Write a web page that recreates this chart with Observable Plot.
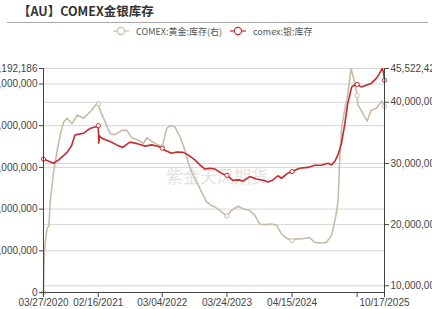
<!DOCTYPE html>
<html>
<head>
<meta charset="utf-8">
<script src="https://cdn.jsdelivr.net/npm/d3@7"></script>
<script src="https://cdn.jsdelivr.net/npm/@observablehq/plot@0.6"></script>
<style>
  body { margin: 0; background: #fff; }
  #wrap { position: relative; width: 432px; height: 309px; overflow: hidden;
          font-family: "Noto Sans CJK SC", "Noto Sans", sans-serif; }
  #title { position: absolute; left: 18px; top: 1px; font-size: 12.5px; font-weight: bold; color: #333; white-space: nowrap; }
  #sep { position: absolute; left: 7px; top: 22px; width: 421px; height: 1px; background: #a8a8a8; }
  #legend { position: absolute; top: 24px; left: 113px; height: 14px; display: flex; align-items: center;
            font-size: 9px; color: #555; white-space: nowrap; }
  #legend svg { display: block; }
  #chart { position: absolute; left: 0; top: 0; }
</style>
</head>
<body>
<div id="wrap">
  <div id="chart"></div>
  <div id="title"></div>
  <div id="sep"></div>
  <div id="legend"></div>
</div>
<script>
// ---- text ----
const titleText = "【AU】COMEX金银库存";
const seriesNames = ["COMEX:黄金:库存(右)", "comex:银:库存"];
const watermark = "紫金天风期货";

// ---- silver inventory (left axis), million oz ----
const silverDates = [
  "2020-03-27","2020-04-20","2020-05-26","2020-06-25","2020-07-24","2020-08-14","2020-09-10","2020-09-28",
  "2020-10-02","2020-11-21","2021-01-01","2021-02-09","2021-02-16","2021-02-19","2021-02-23","2021-03-09",
  "2021-04-27","2021-06-06","2021-07-12","2021-08-20","2021-09-04","2021-10-13","2021-11-22","2022-01-01",
  "2022-02-09","2022-03-04","2022-03-19","2022-04-28","2022-05-28","2022-07-06","2022-08-05","2022-09-14",
  "2022-10-14","2022-11-13","2022-12-13","2023-01-12","2023-02-11","2023-03-21","2023-03-24","2023-04-29",
  "2023-06-08","2023-06-28","2023-08-07","2023-09-16","2023-10-25","2023-11-24","2023-12-23","2024-01-22",
  "2024-02-12","2024-03-21","2024-04-15","2024-05-29","2024-07-18","2024-08-27","2024-10-06","2024-11-15",
  "2024-12-05","2024-12-24","2025-01-13","2025-02-03","2025-02-22","2025-03-12","2025-04-05","2025-05-01",
  "2025-05-07","2025-05-31","2025-06-30","2025-07-29","2025-08-28","2025-09-17","2025-10-03","2025-10-10",
  "2025-10-17"
];
const silverMoz = [
  320, 316, 310, 318, 328, 336, 352, 375,
  378, 382, 394, 398, 400, 358, 376, 370,
  362, 354, 348, 360, 360, 356, 351, 354,
  350, 346, 341, 334, 337, 336, 330, 318,
  306, 296, 298, 296, 288, 280, 281, 269,
  270, 267, 278, 272, 269, 265, 270, 280,
  274, 286, 290, 298, 300, 305, 305, 310,
  306, 314, 330, 358, 402, 453, 493, 500,
  499, 493, 497, 501, 513, 525, 537.192186, 530,
  509
];

// ---- gold inventory (right axis), million oz ----
const goldDates = [
  "2020-03-27","2020-04-01","2020-04-08","2020-04-17","2020-04-28","2020-05-06","2020-05-26","2020-06-15",
  "2020-07-04","2020-07-24","2020-08-14","2020-09-13","2020-10-13","2020-11-21","2021-01-01","2021-02-09",
  "2021-02-16","2021-02-22","2021-03-29","2021-04-27","2021-05-27","2021-07-06","2021-08-05","2021-09-04",
  "2021-10-13","2021-11-12","2021-12-02","2022-01-01","2022-02-09","2022-03-04","2022-03-30","2022-04-19",
  "2022-05-18","2022-06-17","2022-07-17","2022-08-05","2022-08-26","2022-09-25","2022-10-24","2022-11-23",
  "2022-12-23","2023-01-12","2023-02-11","2023-03-24","2023-04-19","2023-05-29","2023-06-28","2023-08-07",
  "2023-09-06","2023-10-05","2023-11-04","2023-12-14","2024-01-13","2024-02-12","2024-03-12","2024-04-15",
  "2024-05-10","2024-06-09","2024-07-28","2024-08-27","2024-10-06","2024-11-05","2024-12-05","2024-12-24",
  "2025-01-04","2025-01-13","2025-01-23","2025-02-03","2025-02-22","2025-03-12","2025-04-01","2025-04-11",
  "2025-05-01","2025-05-07","2025-05-11","2025-06-10","2025-07-06","2025-07-29","2025-08-28","2025-10-01",
  "2025-10-17"
];
const goldMoz = [
  8.9, 15.5, 17.5, 19.3, 19.8, 23.7, 28.6, 31.9,
  34.6, 36.7, 37.4, 36.5, 37.9, 37.4, 38.5, 39.8,
  39.7, 39.0, 36.8, 34.9, 34.7, 35.4, 35.4, 34.2,
  33.8, 33.3, 34.2, 33.6, 33.0, 32.7, 35.7, 36.2,
  36.0, 34.4, 32.2, 30.2, 28.6, 27.0, 25.3, 23.7,
  23.1, 22.9, 22.3, 21.4, 22.3, 23.0, 22.6, 22.3,
  21.5, 20.1, 20.0, 20.1, 19.9, 18.5, 17.8, 17.4,
  17.7, 17.65, 17.9, 17.1, 17.0, 17.1, 18.2, 20.4,
  22.0, 23.7, 30.2, 35.7, 38.7, 41.2, 45.522428, 44.5,
  42.0, 41.1, 39.6, 38.2, 36.9, 38.7, 39.0, 40.2,
  39.3
];

// ---- axes ----
const tickDates  = ["2020-03-27","2021-02-16","2022-03-04","2023-03-24","2024-04-15","2025-05-07","2025-10-17"];
const tickLabels = ["03/27/2020","02/16/2021","03/04/2022","03/24/2023","04/15/2024","","10/17/2025"];
const leftTicks  = [0, 100000000, 200000000, 300000000, 400000000, 500000000, 537192186];
const rightTicks = [10000000, 20000000, 30000000, 40000000, 45522428];
const leftMax  = 537192186;
const rightMin = 8900000;
const rightMax = 45522428;

const RED = "#c62a2e";
const GOLD = "#c9bba7";
const M = 1e6;

// right-axis values mapped onto the left scale
const toLeft = g => (g - rightMin) / (rightMax - rightMin) * leftMax;
const fromLeft = v => v / leftMax * (rightMax - rightMin) + rightMin;

const parse = d3.utcParse("%Y-%m-%d");
const silver = silverDates.map((d, i) => ({date: parse(d), value: silverMoz[i] * M}));
const gold = goldDates.map((d, i) => ({date: parse(d), value: goldMoz[i] * M, y: toLeft(goldMoz[i] * M)}));
const ticks = tickDates.map(parse);
const tickSet = new Set(ticks.map(Number));
const labelOf = new Map(ticks.map((t, i) => [+t, tickLabels[i]]));
const x0 = ticks[0], x1 = ticks[ticks.length - 1];
const fmt = d3.format(",");

document.getElementById("title").textContent = titleText;

// legend
const legend = d3.select("#legend");
[GOLD, RED].forEach((c, i) => {
  const s = legend.append("svg").attr("width", 16).attr("height", 10)
    .style("margin-left", i === 0 ? "0px" : "8px");
  s.append("line").attr("x1", 0).attr("x2", 16).attr("y1", 5).attr("y2", 5).attr("stroke", c).attr("stroke-width", 1.2);
  s.append("circle").attr("cx", 8).attr("cy", 5).attr("r", 3.6).attr("fill", "#fff").attr("stroke", c).attr("stroke-width", 1.1);
  legend.append("span").style("margin-left", "7px").text(seriesNames[i]);
});

const chart = Plot.plot({
  width: 432,
  height: 309,
  marginLeft: 43,
  marginRight: 48,
  marginTop: 68,
  marginBottom: 17,
  style: {fontFamily: "'Liberation Sans', 'Noto Sans CJK SC', sans-serif", fontSize: "10px", color: "#444", background: "transparent", overflow: "hidden"},
  x: {type: "utc", domain: [x0, x1]},
  y: {domain: [0, leftMax]},
  marks: [
    Plot.ruleY(leftTicks.slice(1), {stroke: "#d6d6d6", strokeWidth: 1}),
    Plot.ruleY(rightTicks.map(toLeft), {stroke: "#d6d6d6", strokeWidth: 1}),
    Plot.text([watermark], {frameAnchor: "middle", dx: 3, dy: -3, fontSize: 17, fill: "#e3e3e3",
      fontFamily: "'Noto Sans CJK SC', sans-serif"}),
    Plot.line(gold, {x: "date", y: "y", stroke: GOLD, strokeWidth: 1.6}),
    Plot.line(silver, {x: "date", y: "value", stroke: RED, strokeWidth: 1.6}),
    Plot.dot(gold.filter(d => tickSet.has(+d.date)), {x: "date", y: "y", r: 2.1, fill: "#fff", stroke: GOLD, strokeWidth: 1}),
    Plot.dot(silver.filter(d => tickSet.has(+d.date)), {x: "date", y: "value", r: 2.1, fill: "#fff", stroke: RED, strokeWidth: 1}),
    Plot.ruleX([x0], {stroke: "#444", strokeWidth: 1}),
    Plot.ruleX([x1], {stroke: "#444", strokeWidth: 1}),
    Plot.ruleY([0], {stroke: "#444", strokeWidth: 1}),
    Plot.axisY(leftTicks, {anchor: "left", tickSize: 4, tickPadding: 2, tickFormat: fmt, label: null, stroke: "#444"}),
    Plot.axisY(rightTicks.map(toLeft), {anchor: "right", tickSize: 4, tickPadding: 2,
      tickFormat: v => fmt(Math.round(fromLeft(v))), label: null, stroke: "#444"}),
    Plot.axisX(ticks, {anchor: "bottom", tickSize: 5, tickPadding: 1, tickFormat: d => labelOf.get(+d), label: null, stroke: "#444"})
  ]
});
document.getElementById("chart").appendChild(chart);
</script>
</body>
</html>
